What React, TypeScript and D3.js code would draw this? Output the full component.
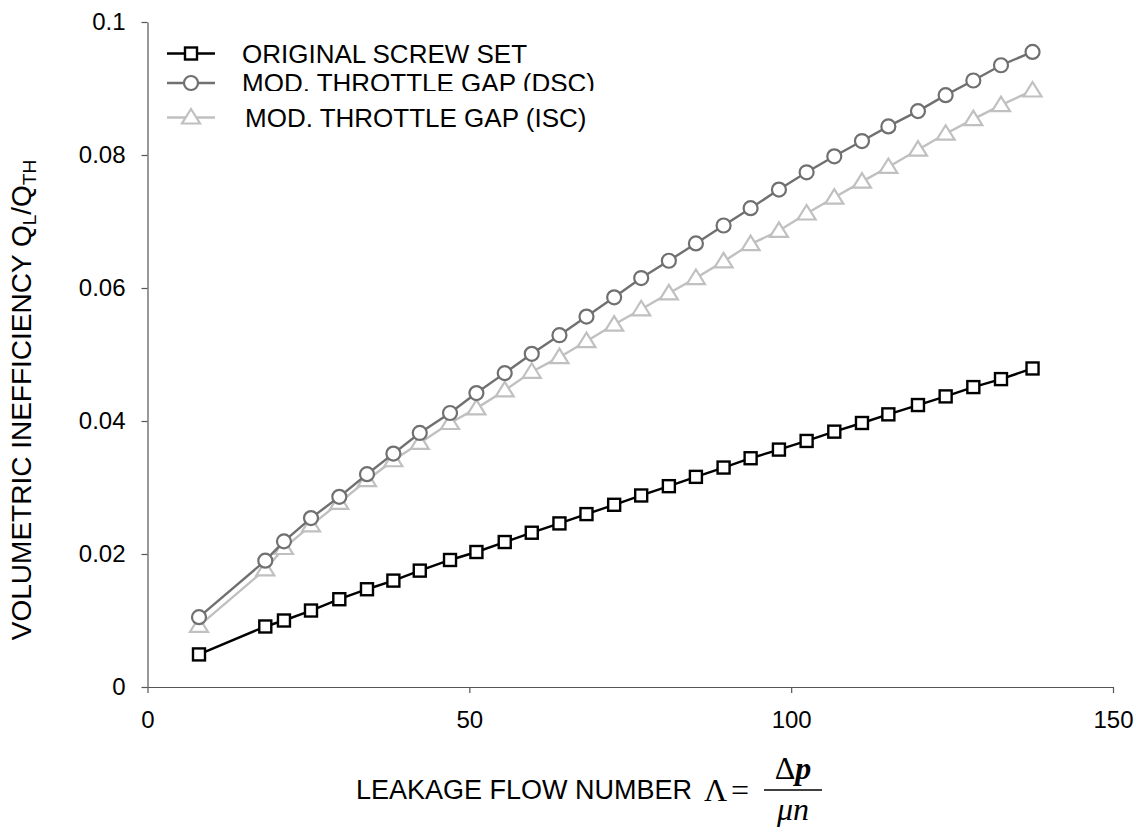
import React, { useEffect, useRef } from 'react';
import * as d3 from 'd3';

// leakage flow number (x) for every measured point
const flowNumber = [
  8.0, 18.3, 21.2, 25.4, 29.8, 34.1, 38.2, 42.3, 47.0, 51.1,
  55.5, 59.7, 64.0, 68.2, 72.5, 76.7, 81.0, 85.2, 89.5, 93.7,
  98.1, 102.4, 106.7, 111.0, 115.1, 119.7, 124.0, 128.3, 132.6, 137.5,
];
const originalSet = [
  0.0049, 0.0091, 0.0100, 0.0115, 0.0132, 0.0147, 0.0160, 0.0175, 0.0191, 0.0203,
  0.0218, 0.0232, 0.0246, 0.0260, 0.0274, 0.0288, 0.0302, 0.0316, 0.0330, 0.0344,
  0.0357, 0.0370, 0.0384, 0.0397, 0.0410, 0.0424, 0.0437, 0.0451, 0.0463, 0.0479,
];
const gapDSC = [
  0.0105, 0.0190, 0.0219, 0.0254, 0.0286, 0.0320, 0.0351, 0.0382, 0.0412, 0.0442,
  0.0472, 0.0501, 0.0529, 0.0557, 0.0586, 0.0615, 0.0641, 0.0667, 0.0694, 0.0720,
  0.0748, 0.0774, 0.0798, 0.0821, 0.0843, 0.0866, 0.0890, 0.0912, 0.0935, 0.0955,
];
const gapISC = [
  0.0092, 0.0177, 0.0209, 0.0243, 0.0277, 0.0311, 0.0341, 0.0367, 0.0397, 0.0419,
  0.0446, 0.0474, 0.0496, 0.0520, 0.0545, 0.0568, 0.0592, 0.0615, 0.0640, 0.0666,
  0.0686, 0.0712, 0.0736, 0.0760, 0.0782, 0.0808, 0.0832, 0.0854, 0.0875, 0.0897,
];
const seriesNames = ['ORIGINAL SCREW SET', 'MOD. THROTTLE GAP (DSC)', 'MOD. THROTTLE GAP (ISC)'];
const xTicks = [0, 50, 100, 150];
const yTicks = [0, 0.02, 0.04, 0.06, 0.08, 0.1];

const font = 'Liberation Sans, Arial, sans-serif';
const serif = 'Liberation Serif, Times New Roman, serif';

const App = () => {
  const ref = useRef<SVGSVGElement>(null);

  useEffect(() => {
    const svg = d3.select(ref.current);
    svg.selectAll('*').remove();

    const x = d3.scaleLinear().domain([0, 150]).range([147.5, 1113]);
    const y = d3.scaleLinear().domain([0, 0.1]).range([687, 22]);

    // axes
    const yAxis = svg.append('g')
      .attr('transform', `translate(${x(0)},0)`)
      .call(d3.axisLeft(y).tickValues(yTicks).tickSize(6).tickSizeOuter(0).tickPadding(16)
        .tickFormat((d) => String(+(+d).toFixed(2))));
    const xAxis = svg.append('g')
      .attr('transform', `translate(0,${y(0)})`)
      .call(d3.axisBottom(x).tickValues(xTicks).tickSize(6).tickSizeOuter(0).tickPadding(18));
    [yAxis, xAxis].forEach((g) => {
      g.selectAll('path, line').attr('stroke', '#555').attr('stroke-width', 1.2);
      g.selectAll('text').attr('fill', '#000').attr('font-family', font).attr('font-size', 24);
    });

    const series = [
      { name: seriesNames[0], values: originalSet, color: '#000', marker: 'square' },
      { name: seriesNames[1], values: gapDSC, color: '#707070', marker: 'circle' },
      { name: seriesNames[2], values: gapISC, color: '#c0c0c0', marker: 'triangle' },
    ];

    const drawMarker = (g: any, kind: string, color: string, cx: number, cy: number) => {
      if (kind === 'square') {
        g.append('rect').attr('x', cx - 6).attr('y', cy - 6).attr('width', 12).attr('height', 12)
          .attr('fill', '#fff').attr('stroke', color).attr('stroke-width', 2.4);
      } else if (kind === 'circle') {
        g.append('circle').attr('cx', cx).attr('cy', cy).attr('r', 7)
          .attr('fill', '#fff').attr('stroke', color).attr('stroke-width', 2.2);
      } else {
        g.append('path').attr('d', `M${cx},${cy - 8.5}L${cx + 9},${cy + 6}L${cx - 9},${cy + 6}Z`)
          .attr('fill', '#fff').attr('stroke', color).attr('stroke-width', 2.2);
      }
    };

    const line = d3.line<number>().x((_, i) => x(flowNumber[i])).y((d) => y(d));

    // draw back to front: ISC, DSC, original
    [...series].reverse().forEach((s) => {
      svg.append('path').datum(s.values).attr('d', line)
        .attr('fill', 'none').attr('stroke', s.color).attr('stroke-width', 2.4);
      const mg = svg.append('g');
      s.values.forEach((v, i) => drawMarker(mg, s.marker, s.color, x(flowNumber[i]), y(v)));
    });

    // legend
    const legendRows = [53.5, 83, 117.5];
    const textX = [242, 242, 245];
    svg.append('clipPath').attr('id', 'dscClip')
      .append('rect').attr('x', 0).attr('y', 0).attr('width', 1136).attr('height', 91);
    series.forEach((s, i) => {
      const ly = legendRows[i];
      svg.append('line').attr('x1', 167).attr('x2', 215).attr('y1', ly).attr('y2', ly)
        .attr('stroke', s.color).attr('stroke-width', 2.4);
      drawMarker(svg, s.marker, s.color, 191, ly);
      const t = svg.append('text').attr('x', textX[i]).attr('y', ly + 9.3)
        .attr('font-family', font).attr('font-size', 26).attr('fill', '#000').text(s.name);
      if (i === 1) t.attr('clip-path', 'url(#dscClip)');
    });

    // y axis title
    const yt = svg.append('text')
      .attr('transform', 'translate(31,400) rotate(-90)')
      .attr('text-anchor', 'middle').attr('font-family', font).attr('font-size', 28).attr('fill', '#000');
    yt.append('tspan').text('VOLUMETRIC INEFFICIENCY Q');
    yt.append('tspan').attr('font-size', 19).attr('dy', 5).text('L');
    yt.append('tspan').attr('dy', -5).text('/Q');
    yt.append('tspan').attr('font-size', 19).attr('dy', 5).text('TH');

    // x axis title with formula
    svg.append('text').attr('x', 356).attr('y', 799)
      .attr('font-family', font).attr('font-size', 27).attr('fill', '#000').text('LEAKAGE FLOW NUMBER');
    svg.append('text').attr('x', 704).attr('y', 801)
      .attr('font-family', serif).attr('font-size', 32).text('Λ');
    svg.append('text').attr('x', 731).attr('y', 801)
      .attr('font-family', serif).attr('font-size', 32).text('=');
    const num = svg.append('text').attr('x', 793).attr('y', 779).attr('text-anchor', 'middle')
      .attr('font-family', serif).attr('font-size', 32);
    num.append('tspan').text('Δ');
    num.append('tspan').attr('font-style', 'italic').attr('font-weight', 'bold').text('p');
    svg.append('line').attr('x1', 764).attr('x2', 822).attr('y1', 790).attr('y2', 790)
      .attr('stroke', '#000').attr('stroke-width', 1.4);
    svg.append('text').attr('x', 793).attr('y', 820).attr('text-anchor', 'middle')
      .attr('font-family', serif).attr('font-size', 32).attr('font-style', 'italic').text('μn');
  }, []);

  return (
    <svg ref={ref} width={1136} height={834}
      style={{ position: 'absolute', left: 0, top: 0, background: '#fff' }} />
  );
};

export default App;
